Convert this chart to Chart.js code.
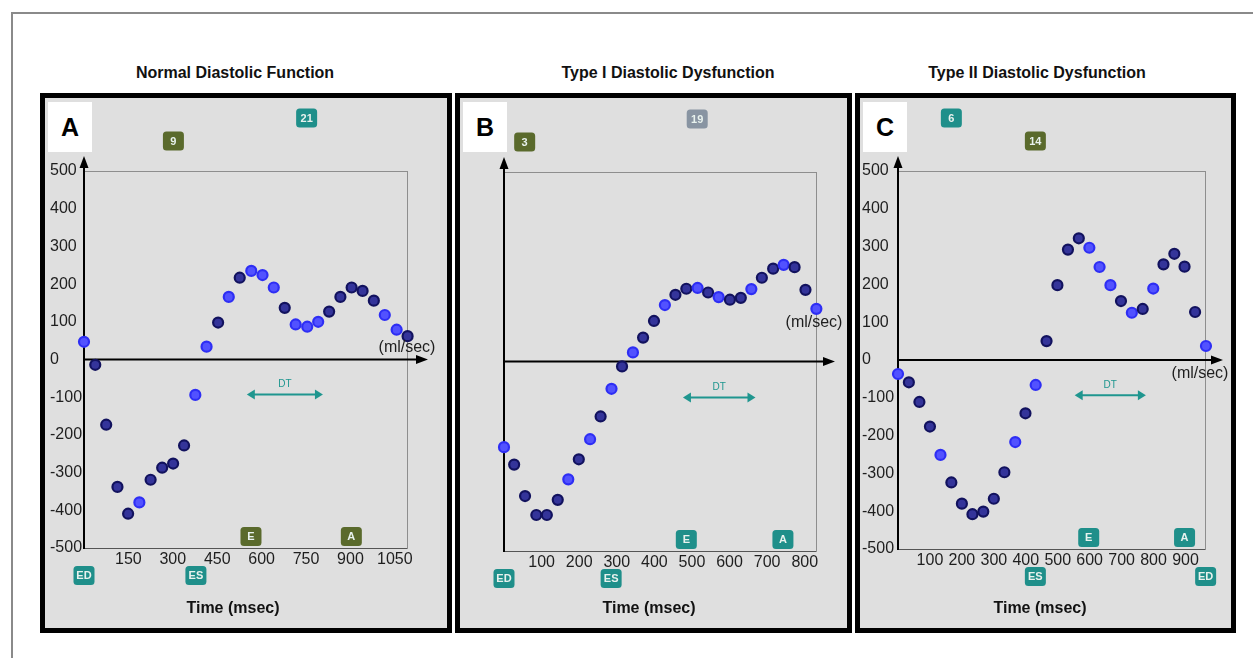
<!DOCTYPE html>
<html><head><meta charset="utf-8">
<script src="https://cdn.jsdelivr.net/npm/chart.js@4.4.1/dist/chart.umd.min.js"></script>
<style>
html,body{margin:0;padding:0;background:#fff;width:1253px;height:658px;overflow:hidden;font-family:"Liberation Sans",Arial,sans-serif;}
#frame{position:absolute;left:11px;top:12px;width:1242px;height:646px;border-top:2px solid #8a8a8a;border-left:2px solid #8a8a8a;box-sizing:border-box;}
.title{position:absolute;top:73px;font-weight:bold;font-size:16px;color:#111;transform:translate(-50%,-50%);white-space:nowrap;}
.panel{position:absolute;top:93px;height:540px;border:5px solid #000;background:#dfdfdf;box-sizing:border-box;}
.panel canvas{position:absolute;left:0;top:0;}
.letter{position:absolute;left:3px;top:4px;width:44px;height:50px;background:#fff;font-weight:bold;font-size:25px;line-height:50px;text-align:center;color:#000;z-index:2;}
.xtitle{position:absolute;top:608px;font-weight:bold;font-size:16px;color:#111;transform:translate(-50%,-50%);white-space:nowrap;z-index:3;}
</style></head>
<body>
<div id="frame"></div>
<div class="title" style="left:235px">Normal Diastolic Function</div>
<div class="title" style="left:668px">Type I Diastolic Dysfunction</div>
<div class="title" style="left:1037px">Type II Diastolic Dysfunction</div>

<div class="panel" style="left:40px;width:412px"><canvas id="cA" width="402" height="530"></canvas><div class="letter">A</div></div>
<div class="panel" style="left:455px;width:397px"><canvas id="cB" width="387" height="530"></canvas><div class="letter">B</div></div>
<div class="panel" style="left:855px;width:381px"><canvas id="cC" width="371" height="530"></canvas><div class="letter">C</div></div>

<div class="xtitle" style="left:233px">Time (msec)</div>
<div class="xtitle" style="left:649px">Time (msec)</div>
<div class="xtitle" style="left:1040px">Time (msec)</div>

<script>
// ---- Panel A: Normal diastolic function ----
const aTime = [0,38,75,113,149,187,225,264,301,338,376,414,453,489,526,565,603,641,678,715,754,791,828,866,904,941,979,1016,1056,1093];
const aFlow = [47,-14,-173,-338,-409,-379,-319,-287,-276,-228,-94,34,98,166,217,235,224,191,137,93,87,100,127,166,191,182,156,118,79,62];
const aBright = [1,0,0,0,0,1,0,0,0,0,1,1,0,1,0,1,1,1,0,1,1,1,0,0,0,0,0,1,1,0];
const aXTicks = [150,300,450,600,750,900,1050];
const aMarkText = ['21','9','E','A','ED','ES'];
const aMarkTime = [752,302,564,903,0,378];
const aDT = [550,807];

// ---- Panel B: Type I diastolic dysfunction ----
const bTime = [0,27,56,86,114,143,171,199,229,257,286,314,343,370,399,428,456,485,515,543,571,601,630,658,686,716,744,773,802,831];
const bFlow = [-226,-272,-355,-405,-405,-365,-311,-258,-205,-145,-72,-13,24,63,107,149,176,192,194,182,170,163,168,191,221,245,255,249,189,139];
const bBright = [1,0,0,0,0,0,1,0,1,0,1,0,1,0,0,1,0,0,1,0,1,0,0,1,0,0,1,0,0,1];
const bXTicks = [100,200,300,400,500,600,700,800];
const bMarkText = ['19','3','E','A','ED','ES'];
const bMarkTime = [514,55,485,742,0,285];
const bDT = [476,669];

// ---- Panel C: Type II diastolic dysfunction ----
const cTime = [0,34,67,100,133,167,200,233,267,300,333,367,399,431,465,499,532,566,599,631,665,698,732,766,799,831,865,897,930,964];
const cFlow = [-37,-59,-111,-176,-251,-324,-380,-408,-401,-367,-297,-217,-141,-66,50,198,292,322,297,246,198,156,125,135,189,253,281,247,127,37];
const cBright = [1,0,0,0,1,0,0,0,0,0,0,1,0,1,0,0,0,0,1,1,1,0,1,0,1,0,0,0,0,1];
const cXTicks = [100,200,300,400,500,600,700,800,900];
const cMarkText = ['6','14','E','A','ES','ED'];
const cMarkTime = [167,430,597,897,430,963];
const cDT = [553,776];

const yMin = -500, yMax = 500, yStep = 100;

const TONE = {teal:'#1f8f8a', olive:'#5a6a2c', gray:'#8894a2'};

const deco = {
  id: 'deco',
  beforeDatasetsDraw(chart, args, o) {
    const {ctx, chartArea: ca, scales: {x, y}} = chart;
    ctx.save();
    ctx.strokeStyle = '#8e8e8e'; ctx.lineWidth = 1;
    ctx.strokeRect(Math.round(ca.left)+0.5, Math.round(ca.top)+0.5, Math.round(ca.right-ca.left), Math.round(ca.bottom-ca.top));
    ctx.strokeStyle = '#555';
    ctx.beginPath(); ctx.moveTo(ca.left, Math.round(ca.bottom)+0.5); ctx.lineTo(ca.right, Math.round(ca.bottom)+0.5); ctx.stroke();
    const x0 = x.getPixelForValue(0), y0 = y.getPixelForValue(0);
    ctx.strokeStyle = '#000'; ctx.fillStyle = '#000'; ctx.lineWidth = 2;
    const yTip = ca.top - 15;
    ctx.beginPath(); ctx.moveTo(x0, ca.bottom+1); ctx.lineTo(x0, yTip+8); ctx.stroke();
    ctx.beginPath(); ctx.moveTo(x0, yTip); ctx.lineTo(x0-4.5, yTip+12); ctx.lineTo(x0+4.5, yTip+12); ctx.closePath(); ctx.fill();
    const xTip = ca.right + o.arrowExt;
    ctx.beginPath(); ctx.moveTo(x0, y0); ctx.lineTo(xTip-8, y0); ctx.stroke();
    ctx.beginPath(); ctx.moveTo(xTip, y0); ctx.lineTo(xTip-12, y0-4.5); ctx.lineTo(xTip-12, y0+4.5); ctx.closePath(); ctx.fill();
    const d1 = x.getPixelForValue(o.dt[0]), d2 = x.getPixelForValue(o.dt[1]), dy = y.getPixelForValue(o.dtY);
    ctx.strokeStyle = '#1f968f'; ctx.fillStyle = '#1f968f'; ctx.lineWidth = 2;
    ctx.beginPath(); ctx.moveTo(d1+5, dy); ctx.lineTo(d2-5, dy); ctx.stroke();
    ctx.beginPath(); ctx.moveTo(d1, dy); ctx.lineTo(d1+8, dy-5); ctx.lineTo(d1+8, dy+5); ctx.closePath(); ctx.fill();
    ctx.beginPath(); ctx.moveTo(d2, dy); ctx.lineTo(d2-8, dy-5); ctx.lineTo(d2-8, dy+5); ctx.closePath(); ctx.fill();
    ctx.font = '10px "Liberation Sans", Arial, sans-serif';
    ctx.textAlign = 'center'; ctx.textBaseline = 'middle';
    ctx.fillText('DT', (d1+d2)/2, dy-10);
    ctx.restore();
  },
  afterDraw(chart, args, o) {
    const {ctx, chartArea: ca, scales: {x, y}} = chart;
    ctx.save();
    ctx.font = '16px "Liberation Sans", Arial, sans-serif';
    ctx.fillStyle = '#1e1e1e'; ctx.textAlign = 'center'; ctx.textBaseline = 'middle';
    ctx.fillText('(ml/sec)', ca.right + o.unitDx, y.getPixelForValue(0) + o.unitDy);
    const rowY = [ca.top-53, ca.top-30, ca.bottom-11.5, ca.bottom+27.5];
    o.badges.forEach((b) => {
      const cx = x.getPixelForValue(b.t), cy = rowY[b.row];
      const w = 21, h = 19;
      ctx.fillStyle = TONE[b.tone];
      ctx.beginPath(); ctx.roundRect(cx-w/2, cy-h/2, w, h, 3.5); ctx.fill();
      ctx.fillStyle = '#e8f2ee';
      ctx.font = 'bold 11px "Liberation Sans", Arial, sans-serif';
      ctx.fillText(b.text, cx, cy+0.5);
    });
    ctx.restore();
  }
};

function badgeList(texts, times, rows, tones) {
  return texts.map((t, i) => ({text: t, t: times[i], row: rows[i], tone: tones[i]}));
}

function makeChart(id, time, flow, bright, xTicks, xMax, pad, yWidth, showY, plug) {
  const pts = time.map((t, i) => ({x: t, y: flow[i]}));
  return new Chart(document.getElementById(id), {
    type: 'scatter',
    data: {datasets: [{
      data: pts,
      clip: false,
      pointRadius: 5,
      pointHoverRadius: 5,
      pointBorderWidth: 2.2,
      pointBackgroundColor: (c) => bright[c.dataIndex] ? '#5252ff' : '#34349a',
      pointBorderColor: (c) => bright[c.dataIndex] ? '#2e2ef4' : '#12125e'
    }]},
    options: {
      responsive: false, animation: false, devicePixelRatio: 1,
      layout: {padding: pad},
      plugins: {legend: {display: false}, tooltip: {enabled: false}, deco: plug},
      scales: {
        x: {
          type: 'linear', min: 0, max: xMax,
          grid: {display: false, drawTicks: false}, border: {display: false},
          afterBuildTicks: (s) => { s.ticks = xTicks.map(v => ({value: v})); },
          afterFit: (s) => { s.height = 30; },
          ticks: {autoSkip: false, maxRotation: 0, padding: 2, color: '#1e1e1e',
                  callback: (v) => String(v),
                  font: {size: 16, family: '"Liberation Sans", Arial, sans-serif'}}
        },
        y: {
          min: yMin, max: yMax,
          grid: {display: false}, border: {display: false},
          afterFit: (s) => { s.width = yWidth; },
          ticks: {display: showY, stepSize: yStep, crossAlign: 'far', color: '#1e1e1e',
                  callback: (v) => String(v),
                  font: {size: 16, family: '"Liberation Sans", Arial, sans-serif'}}
        }
      }
    },
    plugins: [deco]
  });
}

makeChart('cA', aTime, aFlow, aBright, aXTicks, 1091, {left:5, top:73, right:40, bottom:50}, 34, true, {
  arrowExt: 21, unitDx: 0, unitDy: -12, dt: aDT, dtY: -93,
  badges: badgeList(aMarkText, aMarkTime, [0,1,2,2,3,3], ['teal','olive','olive','olive','teal','teal'])
});
makeChart('cB', bTime, bFlow, bBright, bXTicks, 830, {left:4, top:74, right:31, bottom:47}, 40, false, {
  arrowExt: 19, unitDx: -2, unitDy: -39, dt: bDT, dtY: -95,
  badges: badgeList(bMarkText, bMarkTime, [0,1,2,2,3,3], ['gray','olive','teal','teal','teal','teal'])
});
makeChart('cC', cTime, cFlow, cBright, cXTicks, 961, {left:2, top:73, right:26, bottom:49}, 36, true, {
  arrowExt: 18, unitDx: -5, unitDy: 13.5, dt: cDT, dtY: -93,
  badges: badgeList(cMarkText, cMarkTime, [0,1,2,2,3,3], ['teal','olive','teal','teal','teal','teal'])
});
</script>
</body></html>
